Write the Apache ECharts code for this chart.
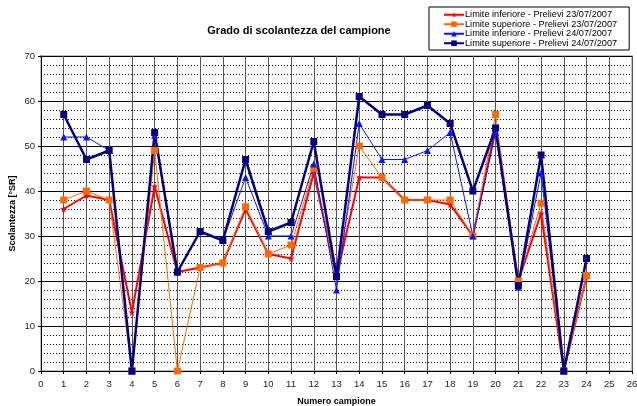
<!DOCTYPE html>
<html>
<head>
<meta charset="utf-8">
<script src="https://cdn.jsdelivr.net/npm/echarts@6/dist/echarts.min.js"></script>
<style>
  html, body { margin: 0; padding: 0; background: #fff; }
  #chart { width: 637px; height: 406px; }
</style>
</head>
<body>
<div id="chart"></div>
<script>
// numero campione 1..24
let campioni = [1, 2, 3, 4, 5, 6, 7, 8, 9, 10, 11, 12, 13, 14, 15, 16, 17, 18, 19, 20, 21, 22, 23, 24];

// valori
let infPrelievi23 = [36, 39, 38, 13, 41, 22, 23, 24, 36, 26, 25, 44, 21, 43, 43, 38, 38, 37, 30, 54, 20, 35, 0, 21];
let supPrelievi23 = [38, 40, 38, 0, 49, 0, 23, 24, 36.5, 26, 28, 45, 21, 50, 43, 38, 38, 38, 30, 57, 20, 37.3, 0, 21.2];
let infPrelievi24 = [52, 52, 49, 0, 52.4, 22, 31, 29, 43, 30, 30, 46, 18, 55, 47, 47, 49, 53, 30, 53, 18.6, 44, 0, 25];
let supPrelievi24 = [57, 47, 49, 0, 53, 22, 31, 29, 47, 31, 33, 51, 21, 61, 57, 57, 59, 55, 40, 54, 19, 48, 0, 25];

let nomi = [
  'Limite inferiore - Prelievi 23/07/2007',
  'Limite superiore - Prelievi 23/07/2007',
  'Limite inferiore - Prelievi 24/07/2007',
  'Limite superiore - Prelievi 24/07/2007'
];

// unisce x e y per l'asse numerico
function coppie(valori) {
  return campioni.map((c, i) => [c, valori[i]]);
}

let stella = 'path://M0,-5L1.3,-1.7L5,-1.6L2,0.7L3,4.5L0,2.3L-3,4.5L-2,0.7L-5,-1.6L-1.3,-1.7Z';

let chart = echarts.init(document.getElementById('chart'));

let option = {
  animation: false,
  textStyle: { fontFamily: 'Liberation Sans, Arial, sans-serif' },
  title: {
    text: 'Grado di scolantezza del campione',
    left: 294,
    top: 20,
    textAlign: 'center',
    textStyle: { fontSize: 11, fontWeight: 'bold', color: '#000' }
  },
  legend: {
    orient: 'vertical',
    left: 429,
    top: 7,
    padding: [3, 12, 2, 14],
    itemGap: 0,
    itemWidth: 20,
    itemHeight: 7,
    borderColor: '#000',
    borderWidth: 1,
    textStyle: { fontSize: 9.2, color: '#000', lineHeight: 9.5, padding: [0, 0, 0, -4] },
    data: nomi
  },
  grid: {
    left: 41, right: 5, top: 56, bottom: 35,
    outerBoundsMode: 'none',
    show: true, borderColor: '#c0c0c0', borderWidth: 2
  },
  xAxis: {
    type: 'value',
    min: 0,
    max: 26,
    interval: 1,
    name: 'Numero campione',
    nameLocation: 'middle',
    nameGap: 26,
    nameTextStyle: { fontSize: 9, fontWeight: 'bold', color: '#000' },
    axisLine: { lineStyle: { color: '#000', width: 1 } },
    axisTick: { show: true, length: 3, lineStyle: { color: '#000' } },
    axisLabel: { fontSize: 9.5, color: '#222', margin: 8 },
    splitLine: { show: true, lineStyle: { color: '#555', width: 1 } }
  },
  yAxis: {
    type: 'value',
    min: 0,
    max: 70,
    interval: 10,
    name: 'Scolantezza [°SR]',
    nameLocation: 'middle',
    nameGap: 24,
    nameMoveOverlap: false,
    nameTextStyle: { fontSize: 9, fontWeight: 'bold', color: '#000' },
    axisLine: { show: true, lineStyle: { color: '#000', width: 1 } },
    axisTick: { show: true, length: 3, lineStyle: { color: '#000' } },
    axisLabel: { fontSize: 9.5, color: '#222', margin: 6 },
    splitLine: { show: true, lineStyle: { color: '#000', width: 1 } },
    minorTick: { show: false, splitNumber: 5 },
    minorSplitLine: { show: true, lineStyle: { color: '#000', width: 1, type: [1, 2] } }
  },
  series: [
    {
      name: nomi[0],
      type: 'line',
      data: coppie(infPrelievi23),
      symbol: stella,
      symbolSize: 7,
      lineStyle: { color: '#ff0000', width: 2 },
      itemStyle: { color: '#ff0000' }
    },
    {
      name: nomi[1],
      type: 'line',
      data: coppie(supPrelievi23),
      symbol: 'rect',
      symbolSize: 7,
      lineStyle: { color: '#ff6a00', width: 1 },
      itemStyle: { color: '#ff6a00' }
    },
    {
      name: nomi[2],
      type: 'line',
      data: coppie(infPrelievi24),
      symbol: 'triangle',
      symbolSize: 7,
      lineStyle: { color: '#0a14ff', width: 1 },
      itemStyle: { color: '#0a14ff' }
    },
    {
      name: nomi[3],
      type: 'line',
      data: coppie(supPrelievi24),
      symbol: 'rect',
      symbolSize: 7,
      lineStyle: { color: '#000080', width: 2.5 },
      itemStyle: { color: '#000080' }
    }
  ]
};

chart.setOption(option);

window.onresize = () => {
  chart.resize();
};
</script>
</body>
</html>
